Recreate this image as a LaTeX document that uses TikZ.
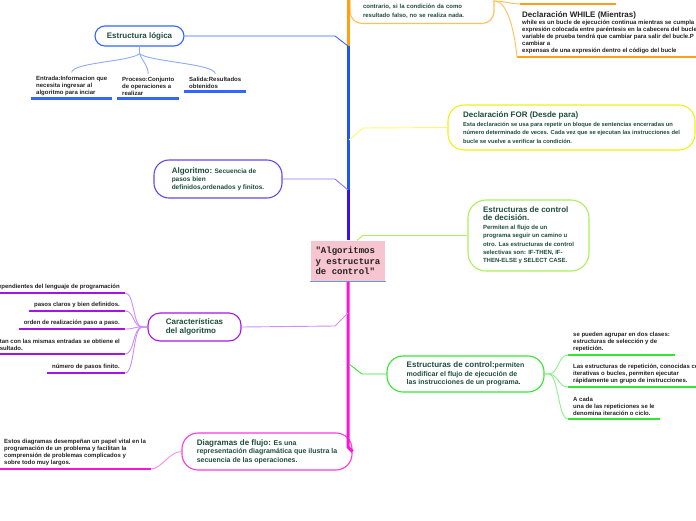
\documentclass[tikz,border=0pt]{standalone}
\usepackage{fontspec}
\setmainfont{Liberation Sans}
\setmonofont{Liberation Mono}
\usepackage{tikz}
\usetikzlibrary{positioning, calc}
\definecolor{verdetexto}{RGB}{30,77,60}
\definecolor{hojatexto}{RGB}{34,34,34}
\definecolor{naranja}{RGB}{255,160,20}
\definecolor{naranjaclaro}{RGB}{255,190,90}
\definecolor{azul}{RGB}{34,85,238}
\definecolor{azulclaro}{RGB}{51,102,255}
\definecolor{azulsuave}{RGB}{140,170,255}
\definecolor{amarillo}{RGB}{240,240,20}
\definecolor{amarillosuave}{RGB}{250,250,110}
\definecolor{indigo}{RGB}{51,17,240}
\definecolor{indigoclaro}{RGB}{100,70,240}
\definecolor{indigosuave}{RGB}{140,115,250}
\definecolor{lima}{RGB}{170,240,90}
\definecolor{violeta}{RGB}{165,20,230}
\definecolor{violetasuave}{RGB}{205,140,255}
\definecolor{verde}{RGB}{50,230,50}
\definecolor{verdesuave}{RGB}{140,240,140}
\definecolor{rosa}{RGB}{255,20,215}
\definecolor{rosasuave}{RGB}{255,140,230}
\definecolor{rosafondo}{RGB}{247,197,207}
\definecolor{lineacentro}{RGB}{90,160,216}
\newcommand{\titulo}{\fontsize{8}{9}\selectfont}
\newcommand{\hojafont}{\bfseries\fontsize{6}{7}\selectfont}

\begin{document}
\begin{tikzpicture}[x=1pt, y=-1pt,
    tema/.style={draw, rounded corners=12pt, line width=1.1pt, align=left, text=verdetexto, inner ysep=0pt},
    hoja/.style={align=left, text=hojatexto, inner xsep=5pt, inner ysep=3pt, font=\hojafont},
    rama/.style={line width=0.9pt},
    tronco/.style={line width=3pt},
    subraya/.style={line width=2.2pt}]
    \useasboundingbox (0,0) rectangle (696,520);
    \clip (0,0) rectangle (696,520);

    % Temas
    \node[tema, draw=none, fill=rosafondo, rounded corners=0pt, minimum width=74pt, minimum height=40pt, inner xsep=3pt, text=hojatexto, font=\ttfamily\bfseries\fontsize{9}{10.5}\selectfont] (cen) at (348,261) {"Algoritmos\\y estructura\\de control"};
    \node[tema, draw=azulclaro, rounded corners=10pt, minimum width=89pt, minimum height=20pt, inner xsep=8pt, align=center, font=\bfseries\titulo] (el) at (139.5,36) {Estructura lógica};
    \node[tema, draw=amarillo, rounded corners=16pt, minimum width=247pt, minimum height=45pt, inner xsep=10pt, font=\bfseries\fontsize{5.8}{8.4}\selectfont] (for) at (571.5,127.5) {{\titulo Declaración FOR (Desde para)}\\Esta declaración se usa para repetir un bloque de sentencias encerradas un\\número determinado de veces. Cada vez que se ejecutan las instrucciones del\\bucle se vuelve a verificar la condición.};
    \node[tema, draw=indigoclaro, rounded corners=15pt, minimum width=128pt, minimum height=38pt, inner xsep=10pt, font=\bfseries\fontsize{6.5}{8}\selectfont] (alg) at (218,179) {{\titulo Algoritmo:} Secuencia de\\pasos bien\\definidos,ordenados y finitos.};
    \node[tema, draw=lima, rounded corners=18pt, minimum width=121pt, minimum height=71pt, inner xsep=10pt, font=\bfseries\fontsize{6}{8.4}\selectfont] (dec) at (528.5,235.5) {{\titulo Estructuras de control}\\{\titulo de decisión.}\\Permiten al flujo de un\\programa seguir un camino u\\otro. Las estructuras de control\\selectivas son: IF-THEN, IF-\\THEN-ELSE y SELECT CASE.};
    \node[tema, draw=violeta, rounded corners=12pt, minimum width=93pt, minimum height=28pt, inner xsep=10pt, font=\bfseries\fontsize{8}{8.6}\selectfont] (car) at (194.5,327) {Características\\del algoritmo};
    \node[tema, draw=verde, rounded corners=16pt, minimum width=157pt, minimum height=36pt, inner xsep=10pt, font=\bfseries\fontsize{7}{8.6}\selectfont] (ctl) at (465.5,374) {{\titulo Estructuras de control:}permiten\\modificar el flujo de ejecución de\\las instrucciones de un programa.};
    \node[tema, draw=rosa!85, rounded corners=16pt, minimum width=170pt, minimum height=37pt, inner xsep=10pt, font=\bfseries\fontsize{7}{8.6}\selectfont] (dia) at (267,451.5) {{\titulo Diagramas de flujo:} Es una\\representación diagramática que ilustra la\\secuencia de las operaciones.};
    \node[tema, draw=naranjaclaro, anchor=south, text width=118pt, inner xsep=13pt, inner ysep=5.5pt, text height=24pt, font=\bfseries\fontsize{6}{9}\selectfont] (si) at (422,24) {contrario, si la condición da como\\resultado falso, no se realiza nada.};
    \draw[line width=1pt, lineacentro] (cen.south west) -- (cen.south east);

    % Tronco
    \coordinate (tarriba) at (348,-2);
    \coordinate (tlog) at (348,46);
    \coordinate (tfor) at (349,140);
    \coordinate (talg) at (348,190);
    \coordinate (tcar) at (348,313);
    \coordinate (tctl) at (349,364);
    \coordinate (tdia) at (348,447);
    \draw[tronco, naranja] (tarriba) -- (tlog);
    \draw[tronco, azul] (tlog) -- (talg);
    \draw[tronco, indigo] (talg) -- (cen.north);
    \draw[tronco, rosa] (cen.south) -- (tdia) -- (dia.east);

    \draw[rama, azulclaro] (tlog) -- ++(-13,-10) -- (el.east);
    \draw[rama, amarillosuave] (tfor) -- ++(14,-12) -- (for.west);
    \draw[rama, indigosuave] (talg) -- ++(-13,-11) -- (alg.east);
    \draw[rama, lima] ([xshift=9pt]cen.north) -- ++(6,-5) -- (dec.west);
    \draw[rama, violetasuave] (tcar) -- ++(-13,13) -- (car.east);
    \draw[rama, verde] (tctl) -- ++(13,10) -- (ctl.west);

    % Hojas de la estructura lógica
    \node[hoja, anchor=south west] (entrada) at (31,98.5) {Entrada:Informacion que\\necesita ingresar al\\algoritmo para inciar};
    \node[hoja, anchor=south west] (proceso) at (117,98.5) {Proceso:Conjunto\\de operaciones a\\realizar};
    \node[hoja, anchor=south west] (salida) at (184,91.5) {Salida:Resultados\\obtenidos};
    \draw[subraya, azulclaro] (entrada.south west) -- (entrada.south east);
    \draw[subraya, azulclaro] (proceso.south west) -- (proceso.south east);
    \draw[subraya, azulclaro] (salida.south west) -- (salida.south east);
    \draw[rama, azulsuave] (el.south) -- ++(0,7) .. controls +(-8,8) and +(0,-10) .. (entrada.north);
    \draw[rama, azulsuave] (el.south) -- ++(0,7) .. controls +(3,8) and +(0,-8) .. (proceso.north);
    \draw[rama, azulsuave] (el.south) -- ++(0,7) .. controls +(8,8) and +(0,-10) .. (salida.north);

    % Hojas del bloque naranja
    \coordinate (sisub) at (520,4);
    \draw[subraya, naranja] (sisub) -- ++(96,0);
    \draw[rama, naranjaclaro] (si.east) .. controls +(8,0) and +(-8,0) .. (sisub);
    \node[hoja, anchor=south west] (while) at (517,57) {{\titulo Declaración WHILE (Mientras)}\\while es un bucle de ejecución continua mientras se cumpla\\expresión colocada entre paréntesis en la cabecera del bucle\\variable de prueba tendrá que cambiar para salir del bucle.P\\cambiar a\\expensas de una expresión dentro el código del bucle};
    \draw[subraya, naranja] (while.south west) -- (while.south east);
    \draw[rama, naranjaclaro] (si.east) .. controls +(12,0) and +(-3,-30) .. (while.south west);

    % Hojas de las características
    \node[hoja, anchor=south east] (indep) at (125,293) {ependientes del lenguaje de programación};
    \node[hoja, anchor=south east] (pasos) at (125,311) {pasos claros y bien definidos.};
    \node[hoja, anchor=south east] (orden) at (125,329) {orden de realización paso a paso.};
    \node[hoja, anchor=south east] (mismas) at (125,354) {tan con las mismas entradas se obtiene el\\sultado.};
    \node[hoja, anchor=south east] (finito) at (125,373) {número de pasos finito.};
    \foreach \h in {indep, pasos, orden, mismas, finito} {
        \draw[subraya, violeta] (\h.south west) -- (\h.south east);
        \draw[rama, violetasuave] (car.west) -- ++(-5,0) .. controls +(-10,0) and +(10,0) .. (\h.south east);
    }

    % Hojas de las estructuras de control
    \node[hoja, anchor=south west] (clases) at (568,355) {se pueden agrupar en dos clases:\\estructuras de selección y de\\repetición.};
    \node[hoja, anchor=south west] (repet) at (568,387) {Las estructuras de repetición, conocidas co\\iterativas o bucles, permiten ejecutar\\rápidamente un grupo de instrucciones.};
    \node[hoja, anchor=south west] (ciclo) at (568,419) {A cada\\una de las repeticiones se le\\denomina iteración o ciclo.};
    \foreach \h in {clases, repet, ciclo} {
        \draw[subraya, verde] (\h.south west) -- (\h.south east);
        \draw[rama, verdesuave] (ctl.east) -- ++(4,0) .. controls +(10,0) and +(-10,0) .. (\h.south west);
    }

    % Hoja de los diagramas
    \node[hoja, anchor=south west] (papel) at (-1,469) {Estos diagramas desempeñan un papel vital en la\\programación de un problema y facilitan la\\comprensión de problemas complicados y\\sobre todo muy largos.};
    \draw[subraya, rosa] (papel.south west) -- (papel.south east);
    \draw[rama, rosasuave] (dia.west) .. controls +(-12,0) and +(10,0) .. (papel.south east);
\end{tikzpicture}
\end{document}
